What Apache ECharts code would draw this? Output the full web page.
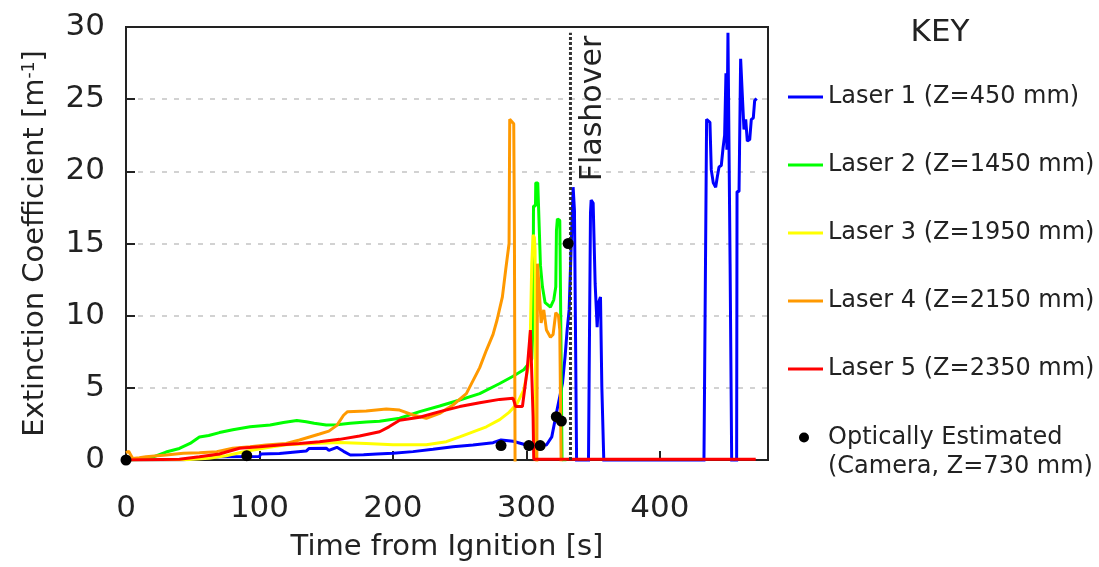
<!DOCTYPE html>
<html><head><meta charset="utf-8">
<script src="https://cdn.jsdelivr.net/npm/echarts@6/dist/echarts.min.js"></script>
<style>html,body{margin:0;padding:0;background:#fff}#c{width:1099px;height:567px}</style>
</head><body><div id="c"></div>
<script>
// ---- data: [time (s), extinction coefficient (1/m)] ----
const laser1 = [[0,0],[43,0.02],[55,0.1],[70,0.23],[100,0.25],[101,0.42],[115,0.45],[116,0.58],[135,0.62],[137,0.79],[150,0.82],[152,0.66],[158,0.88],[163,0.6],[168,0.35],[178,0.37],[188,0.42],[200,0.46],[215,0.58],[230,0.74],[245,0.92],[260,1.04],[275,1.2],[281,1.39],[290,1.3],[300,1.04],[315,1.04],[319,1.6],[323,3.5],[327,5.3],[329,7.2],[330.5,9.0],[332,10.4],[333,10.4],[334.3,16.9],[335,18.9],[336,17.3],[337,17.3],[337.6,-0.15],[346.5,-0.15],[347,5.8],[348,17.1],[348.5,18.0],[350,17.8],[351.5,12.2],[353,9.2],[354,10.9],[355.5,11.3],[356.5,5.1],[358,-0.15],[433,-0.15],[433.2,2.1],[434,2.1],[435,23.6],[437.5,23.4],[438.5,20.1],[440,19.2],[441.8,18.9],[443,19.6],[444.3,20.3],[446,20.4],[447.3,21.6],[448.5,22.5],[449.5,26.8],[450.2,21.5],[451,29.6],[452.4,29.6],[452.6,13.6],[453.5,13.6],[453.8,-0.15],[457.5,-0.15],[457.8,18.6],[459.3,18.6],[460.5,27.8],[461.8,25.2],[463,22.9],[464.3,23.6],[465.5,22.1],[467.3,22.2],[468.5,23.6],[470,23.7],[471,24.9],[472.5,25.05]];
const laser2 = [[0,0],[14,0.05],[20,0.2],[30,0.55],[40,0.8],[48,1.15],[55,1.6],[62,1.7],[70,1.9],[80,2.1],[93,2.3],[108,2.42],[118,2.6],[128,2.73],[135,2.65],[141,2.54],[150,2.42],[158,2.45],[168,2.54],[180,2.64],[190,2.68],[205,2.89],[220,3.35],[235,3.74],[250,4.16],[265,4.6],[280,5.3],[290,5.8],[298,6.25],[302,6.7],[304,7.0],[305,9.5],[305.3,17.6],[306.8,17.6],[307,19.2],[308.5,19.2],[309,17.8],[310,17.8],[310.5,13.5],[312,12.0],[314,10.9],[318,10.6],[320.5,11.1],[322,12.0],[322.5,15.9],[323.2,16.7],[325,16.6],[325.5,12],[326.7,0],[330,0]];
const laser3 = [[0,0],[45,0.02],[62,0.12],[75,0.3],[90,0.6],[105,0.85],[120,1.05],[140,1.15],[160,1.22],[180,1.15],[200,1.05],[225,1.05],[240,1.27],[250,1.6],[260,1.95],[270,2.3],[280,2.8],[287,3.3],[293,3.9],[298,4.85],[301.5,6.5],[303,9],[304,13.6],[305,15.6],[306,15.4],[306.5,14.5],[307,0]];
const laser4 = [[0,0.5],[2,0.6],[5,0.1],[10,0.15],[15,0.23],[30,0.35],[43,0.46],[55,0.51],[68,0.58],[80,0.81],[93,0.92],[105,1.04],[120,1.15],[130,1.39],[145,1.8],[152,2.0],[158,2.4],[163,3.1],[166,3.35],[180,3.4],[195,3.53],[205,3.46],[215,3.12],[225,2.89],[235,3.23],[245,3.81],[255,4.6],[260,5.5],[265,6.4],[270,7.6],[275,8.7],[278,9.7],[282,11.3],[284.5,13.2],[287,15.0],[287.5,23.6],[290.5,23.3],[291,15.9],[291.5,-0.3],[307.8,-0.2],[308.3,13.6],[309.5,12],[311,9.5],[313,10.4],[315,9.0],[318,8.5],[320,8.7],[322,10.2],[324,10],[325,9],[326,-0.1]];
const laser5 = [[0,0],[40,0.05],[55,0.23],[70,0.42],[85,0.81],[100,0.92],[115,1.04],[130,1.15],[145,1.27],[160,1.43],[175,1.66],[190,1.96],[197,2.3],[205,2.75],[220,2.96],[235,3.35],[250,3.7],[265,3.97],[280,4.2],[290,4.27],[292,3.7],[297,3.7],[300.5,6.2],[303,9.0],[304.3,9.1],[305,3.0],[305.5,0.05],[471.8,0.05]];
const camera = [[0,0],[90.5,0.3],[281,1.0],[301.8,1.0],[310.3,1.0],[322.4,3.0],[326.2,2.7],[331.3,15.0]];
const flashoverTime = 333;
const flashoverTop = 29.6;
const seriesNames = ['Laser 1 (Z=450 mm)','Laser 2 (Z=1450 mm)','Laser 3 (Z=1950 mm)','Laser 4 (Z=2150 mm)','Laser 5 (Z=2350 mm)'];
const cameraName = 'Optically Estimated\n(Camera, Z=730 mm)';
const colors = ['#0000ff','#00ff00','#ffff00','#ff9900','#ff0000'];
const xMin = 0, xMax = 481, xStep = 100;
const yMin = 0, yMax = 30, yStep = 5;

const FONT = 'DejaVu Sans';
const TXT = '#222';
const chart = echarts.init(document.getElementById('c'), null, {renderer:'canvas'});
const lasers = [laser1, laser2, laser3, laser4, laser5];
const series = lasers.map((d,i)=>({
  name: seriesNames[i], type:'line', data:d, showSymbol:false, symbol:'none',
  lineStyle:{color:colors[i], width:3}, itemStyle:{color:colors[i]}, z:2+i, animation:false
}));
series.push({
  name:'Flashover', type:'line', data:[[flashoverTime,0],[flashoverTime,flashoverTop]],
  showSymbol:false, symbol:'none', lineStyle:{color:'#333', width:3, type:[3,2]}, z:8, animation:false
});
series.push({
  name: cameraName, type:'scatter', data:camera, symbol:'circle', symbolSize:11,
  itemStyle:{color:'#000', opacity:1}, z:10, animation:false
});

chart.setOption({
  animation:false,
  backgroundColor:'#fff',
  textStyle:{fontFamily:FONT, color:TXT},
  title:{text:'KEY', left:940, top:17, textAlign:'center', padding:0,
    textStyle:{fontFamily:FONT, fontSize:31, fontWeight:'normal', color:TXT}},
  grid:{left:126, right:331, top:27, bottom:107, show:true, borderColor:'#222', borderWidth:2, backgroundColor:'#fff'},
  legend:[{
    data:seriesNames, orient:'vertical', left:788, top:82, padding:0, itemGap:38,
    icon:'rect', itemWidth:35, itemHeight:3, selectedMode:false,
    textStyle:{fontFamily:FONT, fontSize:24, lineHeight:30, color:TXT}
  },{
    data:[cameraName], orient:'vertical', left:799, top:394, padding:0,
    icon:'circle', itemWidth:10, itemHeight:10, selectedMode:false,
    formatter: n => ' \n' + n,
    itemStyle:{opacity:1},
    textStyle:{fontFamily:FONT, fontSize:24, lineHeight:29, color:TXT, padding:[0,0,0,14]}
  }],
  xAxis:{
    type:'value', min:xMin, max:xMax, interval:xStep,
    name:'Time from Ignition [s]', nameLocation:'middle', nameGap:73,
    nameTextStyle:{fontFamily:FONT, fontSize:29, color:TXT},
    axisLine:{show:true, onZero:false, lineStyle:{color:'#222', width:2}},
    axisTick:{show:true, inside:true, length:9, lineStyle:{color:'#222', width:2}},
    axisLabel:{fontFamily:FONT, fontSize:31, color:TXT, margin:33, showMaxLabel:false},
    splitLine:{show:false}
  },
  yAxis:{
    type:'value', min:yMin, max:yMax, interval:yStep,
    name:'Extinction Coefficient [m{sup|-1}]', nameLocation:'middle', nameGap:76,
    nameTextStyle:{fontFamily:FONT, fontSize:29, color:TXT,
      rich:{sup:{fontFamily:FONT, fontSize:17, color:TXT, verticalAlign:'top', padding:[0,0,12,0]}}},
    axisLine:{show:true, lineStyle:{color:'#222', width:2}},
    axisTick:{show:true, inside:true, length:9, lineStyle:{color:'#222', width:2}},
    axisLabel:{fontFamily:FONT, fontSize:31, color:TXT, margin:21},
    splitLine:{show:true, showMaxLine:false, showMinLine:false, lineStyle:{color:'#c4c4c4', width:1.5, type:[5,7]}}
  },
  series: series
});

const flashPx = chart.convertToPixel({gridIndex:0}, [flashoverTime, flashoverTop]);
chart.setOption({
  graphic:[{
    type:'text', x: flashPx[0]+23, y: flashPx[1]+3, rotation: Math.PI/2, z:20,
    style:{text:'Flashover', fontFamily:FONT, fontSize:30, fill:TXT, align:'right', verticalAlign:'middle'}
  }]
});
</script></body></html>
